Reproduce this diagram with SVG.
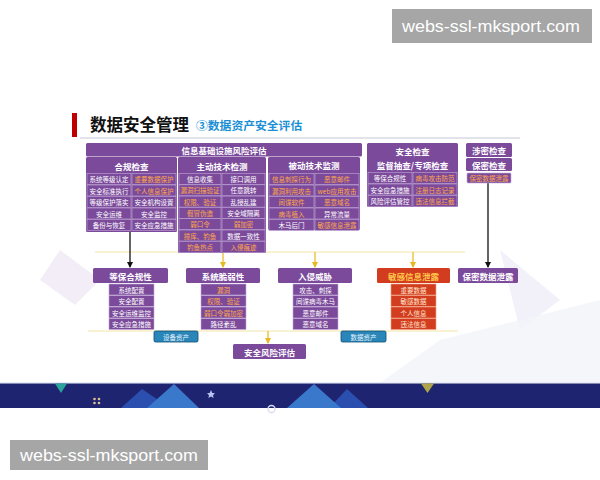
<svg xmlns="http://www.w3.org/2000/svg" width="600" height="480" viewBox="0 0 600 480">
<defs>
<style>
.p{fill:#7b4a9b}
.c{fill:#7b4a9b;stroke:#c2a9d8;stroke-width:0.6}
.r{fill:#d23c1f;stroke:#f0a080;stroke-width:0.6}
.t{font-family:"Noto Sans CJK SC","Noto Sans",sans-serif;font-size:6.5px;fill:#ffffff;text-anchor:middle;dominant-baseline:central}
.o{fill:#ffa84a}
.h{font-family:"Noto Sans CJK SC","Noto Sans",sans-serif;font-weight:bold;font-size:8.5px;fill:#ffffff;text-anchor:middle;dominant-baseline:central}
.wm{font-family:"Liberation Sans",Arial,sans-serif;font-size:17px;fill:#ffffff}
</style>
<marker id="ab" markerWidth="6" markerHeight="6" refX="5" refY="3" orient="auto" markerUnits="userSpaceOnUse"><path d="M0,0 L6,3 L0,6 Z" fill="#111"/></marker>
<marker id="ay" markerWidth="6" markerHeight="6" refX="5" refY="3" orient="auto" markerUnits="userSpaceOnUse"><path d="M0,0 L6,3 L0,6 Z" fill="#e8b820"/></marker>
</defs>
<rect width="600" height="480" fill="#ffffff"/>
<!-- faint slide decorations -->
<polygon points="60,250 100,280 75,305 40,280" fill="#ece6f4" opacity="0.7"/>
<polygon points="500,250 560,300 520,330" fill="#eceaf6" opacity="0.7"/>
<polygon points="440,340 600,300 600,383 380,383" fill="#f3f4f9" opacity="0.8"/>
<!-- bottom band -->
<rect x="0" y="382" width="600" height="1.5" fill="#e8ecf6"/>
<rect x="0" y="383.5" width="600" height="24.5" fill="#1f2470"/>
<polygon points="121,408 142,389 170,408" fill="#2a4fae"/>
<polygon points="147,408 174,384 199,408" fill="#3a78cc"/>
<polygon points="329,408 347,389 368,408" fill="#2a4fae"/>
<polygon points="287,408 314,384 341,408" fill="#3a78cc"/>
<polygon points="55,383.5 67,383.5 61,393" fill="#2aa39a"/>
<polygon points="421,383.5 434,383.5 427.5,393" fill="#b0a448"/>
<g fill="#d8c090"><circle cx="94.5" cy="399" r="1.3"/><circle cx="99" cy="399" r="1.3"/><circle cx="94.5" cy="403" r="1.3"/><circle cx="99" cy="403" r="1.3"/></g>
<polygon points="211,390 212.3,393 215,393.3 213,395.3 213.6,398 211,396.6 208.4,398 209,395.3 207,393.3 209.7,393" fill="#b8c4f0"/>
<circle cx="271.5" cy="409" r="3.5" fill="none" stroke="#d8dcf0" stroke-width="1.3"/>
<!-- title -->
<rect x="72" y="113" width="5" height="24" fill="#c00000"/>
<text x="90" y="131" font-family="'Noto Sans CJK SC',sans-serif" font-weight="bold" font-size="16.5" fill="#111">数据安全管理</text>
<text x="196" y="130" font-family="'Noto Sans CJK SC',sans-serif" font-weight="bold" font-size="11.8" fill="#1a8fd6">③数据资产安全评估</text>
<line x1="80" y1="138" x2="520" y2="138" stroke="#b8b8c8" stroke-width="0.8"/>
<!-- connectors -->
<g id="connectors" fill="none">
<line x1="95" y1="252" x2="465" y2="252" stroke="#f2e6a8" stroke-width="1"/>
<line x1="88" y1="331" x2="458" y2="331" stroke="#f2e6a8" stroke-width="1"/>
<line x1="130" y1="232" x2="130" y2="267" stroke="#111" stroke-width="1.3" marker-end="url(#ab)"/>
<line x1="488" y1="183" x2="488" y2="267" stroke="#111" stroke-width="1.3" marker-end="url(#ab)"/>
<line x1="223" y1="253" x2="223" y2="267" stroke="#e8b820" stroke-width="1.2" marker-end="url(#ay)"/>
<line x1="315" y1="252" x2="315" y2="267" stroke="#e8b820" stroke-width="1.2" marker-end="url(#ay)"/>
<line x1="413" y1="252" x2="413" y2="267" stroke="#e8b820" stroke-width="1.2" marker-end="url(#ay)"/>
<line x1="268" y1="331" x2="268" y2="343" stroke="#e8b820" stroke-width="1.2" marker-end="url(#ay)"/>
</g>
<!-- top header -->
<g id="infra">
<rect x="86" y="143" width="276" height="13.5" rx="1.5" class="p"/>
<text x="224" y="150" class="h" font-size="9.7">信息基础设施风险评估</text>
</g>
<g id="hegui">
<rect x="86" y="157" width="91" height="75" rx="1.5" class="p"/>
<text x="131.5" y="166" class="h">合规检查</text>
<rect x="87" y="173.5" width="44" height="11" class="c"/><text x="109" y="179" class="t">系统等级认定</text>
<rect x="87" y="185" width="44" height="11" class="c"/><text x="109" y="190.5" class="t">安全标准执行</text>
<rect x="87" y="196.5" width="44" height="11" class="c"/><text x="109" y="202" class="t">等级保护落实</text>
<rect x="87" y="208" width="44" height="11" class="c"/><text x="109" y="213.5" class="t">安全运维</text>
<rect x="87" y="219.5" width="44" height="11" class="c"/><text x="109" y="225" class="t">备份与恢复</text>
<rect x="132" y="173.5" width="44" height="11" class="c"/><text x="154" y="179" class="t o">重要数据保护</text>
<rect x="132" y="185" width="44" height="11" class="c"/><text x="154" y="190.5" class="t o">个人信息保护</text>
<rect x="132" y="196.5" width="44" height="11" class="c"/><text x="154" y="202" class="t">安全机构设置</text>
<rect x="132" y="208" width="44" height="11" class="c"/><text x="154" y="213.5" class="t">安全监控</text>
<rect x="132" y="219.5" width="44" height="11" class="c"/><text x="154" y="225" class="t">安全应急措施</text>
</g>
<g id="zhudong">
<rect x="178" y="157" width="88" height="96" rx="1.5" class="p"/>
<text x="222" y="166" class="h">主动技术检测</text>
<rect x="179" y="173.5" width="42" height="11" class="c"/><text x="200" y="179" class="t">信息收集</text>
<rect x="179" y="184.8" width="42" height="11" class="c"/><text x="200" y="190.3" class="t o">漏洞扫描验证</text>
<rect x="179" y="196.1" width="42" height="11" class="c"/><text x="200" y="201.6" class="t o">权限、验证</text>
<rect x="179" y="207.4" width="42" height="11" class="c"/><text x="200" y="212.9" class="t o">假冒伪造</text>
<rect x="179" y="218.7" width="42" height="11" class="c"/><text x="200" y="224.2" class="t o">弱口令</text>
<rect x="179" y="230" width="42" height="11" class="c"/><text x="200" y="235.5" class="t o">撞库、钓鱼</text>
<rect x="179" y="241.3" width="42" height="11" class="c"/><text x="200" y="246.8" class="t o">钓鱼热点</text>
<rect x="222" y="173.5" width="43" height="11" class="c"/><text x="243.5" y="179" class="t">接口调用</text>
<rect x="222" y="184.8" width="43" height="11" class="c"/><text x="243.5" y="190.3" class="t">任意跳转</text>
<rect x="222" y="196.1" width="43" height="11" class="c"/><text x="243.5" y="201.6" class="t">乱授乱建</text>
<rect x="222" y="207.4" width="43" height="11" class="c"/><text x="243.5" y="212.9" class="t">安全域隔离</text>
<rect x="222" y="218.7" width="43" height="11" class="c"/><text x="243.5" y="224.2" class="t o">弱加密</text>
<rect x="222" y="230" width="43" height="11" class="c"/><text x="243.5" y="235.5" class="t">数据一致性</text>
<rect x="222" y="241.3" width="43" height="11" class="c"/><text x="243.5" y="246.8" class="t o">入侵痕迹</text>
</g>
<g id="beidong">
<rect x="268" y="157" width="92" height="73" rx="1.5" class="p"/>
<text x="314" y="165" class="h">被动技术监测</text>
<rect x="269" y="173.5" width="45" height="11" class="c"/><text x="291.5" y="179" class="t o">信息刺探行为</text>
<rect x="269" y="185" width="45" height="11" class="c"/><text x="291.5" y="190.5" class="t o">漏洞利用攻击</text>
<rect x="269" y="196.5" width="45" height="11" class="c"/><text x="291.5" y="202" class="t o">间谍软件</text>
<rect x="269" y="208" width="45" height="11" class="c"/><text x="291.5" y="213.5" class="t o">病毒植入</text>
<rect x="269" y="219.5" width="45" height="11" class="c"/><text x="291.5" y="225" class="t">木马后门</text>
<rect x="315" y="173.5" width="44" height="11" class="c"/><text x="337" y="179" class="t o">恶意邮件</text>
<rect x="315" y="185" width="44" height="11" class="c"/><text x="337" y="190.5" class="t o">web应用攻击</text>
<rect x="315" y="196.5" width="44" height="11" class="c"/><text x="337" y="202" class="t o">恶意域名</text>
<rect x="315" y="208" width="44" height="11" class="c"/><text x="337" y="213.5" class="t">异常流量</text>
<rect x="315" y="219.5" width="44" height="11" class="c"/><text x="337" y="225" class="t o">敏感信息泄露</text>
</g>
<g id="anquan">
<rect x="367" y="143" width="91" height="64" rx="1.5" class="p"/>
<text x="412.5" y="150.5" class="h" font-size="10">安全检查</text>
<text x="412.5" y="164.5" class="h">监督抽查/专项检查</text>
<rect x="368" y="172.5" width="44" height="11" class="c"/><text x="390" y="178" class="t">等保合规性</text>
<rect x="368" y="184" width="44" height="11" class="c"/><text x="390" y="189.5" class="t">安全应急措施</text>
<rect x="368" y="195.5" width="44" height="11" class="c"/><text x="390" y="201" class="t">风险评估管控</text>
<rect x="413" y="172.5" width="44" height="11" class="c"/><text x="435" y="178" class="t o">病毒攻击防范</text>
<rect x="413" y="184" width="44" height="11" class="c"/><text x="435" y="189.5" class="t o">注册日志记录</text>
<rect x="413" y="195.5" width="44" height="11" class="c"/><text x="435" y="201" class="t o">违法信息拦截</text>
</g>
<g id="shemi">
<rect x="466" y="143" width="46" height="14" rx="1.5" class="p"/>
<text x="489" y="150" class="h" font-size="9">涉密检查</text>
<rect x="466" y="158" width="46" height="13" rx="1.5" class="p"/>
<text x="489" y="164.5" class="h" font-size="9">保密检查</text>
<rect x="467" y="173" width="44" height="10" rx="1" class="c"/>
<text x="489" y="178" class="t o">保密数据泄露</text>
</g>
<!-- bottom row -->
<g id="dengbao">
<rect x="93" y="268" width="75" height="15" rx="1.5" class="p"/>
<text x="130.5" y="275.5" class="h" font-size="9">等保合规性</text>
<rect x="109" y="284" width="45" height="11" class="c"/><text x="131.5" y="289.5" class="t">系统配置</text>
<rect x="109" y="295.5" width="45" height="11" class="c"/><text x="131.5" y="301" class="t">安全配置</text>
<rect x="109" y="307" width="45" height="11" class="c"/><text x="131.5" y="312.5" class="t">安全运维监控</text>
<rect x="109" y="318.5" width="45" height="11" class="c"/><text x="131.5" y="324" class="t">安全应急措施</text>
</g>
<g id="cuiruo">
<rect x="186" y="268" width="74" height="15" rx="1.5" class="p"/>
<text x="223" y="275.5" class="h" font-size="9">系统脆弱性</text>
<rect x="201" y="284" width="45" height="11" class="c"/><text x="223.5" y="289.5" class="t o">漏洞</text>
<rect x="201" y="295.5" width="45" height="11" class="c"/><text x="223.5" y="301" class="t o">权限、验证</text>
<rect x="201" y="307" width="45" height="11" class="c"/><text x="223.5" y="312.5" class="t o">弱口令弱加密</text>
<rect x="201" y="318.5" width="45" height="11" class="c"/><text x="223.5" y="324" class="t">路径紊乱</text>
</g>
<g id="ruqin">
<rect x="278" y="268" width="74" height="15" rx="1.5" class="p"/>
<text x="315" y="275.5" class="h o" font-size="9">入侵威胁</text>
<rect x="293" y="284" width="45" height="11" class="c"/><text x="315.5" y="289.5" class="t">攻击、刺探</text>
<rect x="293" y="295.5" width="45" height="11" class="c"/><text x="315.5" y="301" class="t">间谍病毒木马</text>
<rect x="293" y="307" width="45" height="11" class="c"/><text x="315.5" y="312.5" class="t">恶意邮件</text>
<rect x="293" y="318.5" width="45" height="11" class="c"/><text x="315.5" y="324" class="t">恶意域名</text>
</g>
<g id="mingan">
<rect x="377" y="268" width="73" height="15" rx="1.5" fill="#d23c1f"/>
<text x="413.5" y="275.5" class="h" font-size="9" fill="#ffc64a" style="fill:#ffc64a">敏感信息泄露</text>
<rect x="391" y="284" width="45" height="11" class="r"/><text x="413.5" y="289.5" class="t" style="fill:#ffe6cc">重要数据</text>
<rect x="391" y="295.5" width="45" height="11" class="r"/><text x="413.5" y="301" class="t" style="fill:#ffe6cc">敏感数据</text>
<rect x="391" y="307" width="45" height="11" class="r"/><text x="413.5" y="312.5" class="t" style="fill:#ffe6cc">个人信息</text>
<rect x="391" y="318.5" width="45" height="11" class="r"/><text x="413.5" y="324" class="t" style="fill:#ffe6cc">违法信息</text>
</g>
<g id="baomi">
<rect x="458" y="268" width="60" height="15" rx="1.5" class="p"/>
<text x="488" y="275.5" class="h o" font-size="8.5">保密数据泄露</text>
</g>
<g id="shebei">
<rect x="154" y="331" width="44" height="11" rx="1.5" fill="#2a86b8" stroke="#0d4f75" stroke-width="0.8"/>
<text x="176" y="336.5" class="t" style="fill:#e8f4ff">设备资产</text>
</g>
<g id="shuju">
<rect x="341" y="331" width="45" height="11" rx="1.5" fill="#2a86b8" stroke="#0d4f75" stroke-width="0.8"/>
<text x="363.5" y="336.5" class="t" style="fill:#e8f4ff">数据资产</text>
</g>
<g id="fengxian">
<rect x="233" y="344" width="73" height="15" rx="1.5" class="p"/>
<text x="269.5" y="351.5" class="h" font-size="9">安全风险评估</text>
</g>
<!-- watermarks -->
<rect x="392" y="9" width="200" height="34" fill="#a6a6a6"/>
<text x="402" y="32" class="wm" textLength="178" lengthAdjust="spacingAndGlyphs">webs-ssl-mksport.com</text>
<rect x="10" y="440" width="198" height="30" fill="#a6a6a6"/>
<text x="20" y="461" class="wm" textLength="178" lengthAdjust="spacingAndGlyphs">webs-ssl-mksport.com</text>
</svg>
